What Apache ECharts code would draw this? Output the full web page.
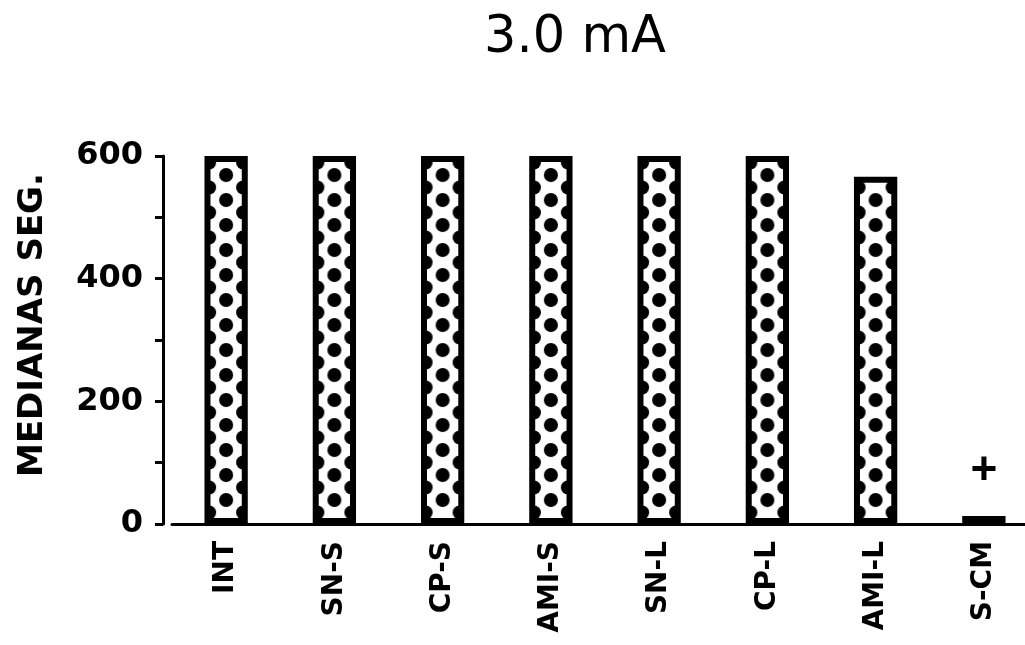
<!DOCTYPE html>
<html><head><meta charset="utf-8">
<script src="https://cdn.jsdelivr.net/npm/echarts@6/dist/echarts.min.js"></script>
<style>html,body{margin:0;padding:0;background:#fff;overflow:hidden}#c{width:1040px;height:645px}</style>
</head><body><div id="c"></div>
<script>
const categories = ['INT','SN-S','CP-S','AMI-S','SN-L','CP-L','AMI-L','S-CM'];
const values = [600, 600, 600, 600, 600, 600, 566, 13];
const marks = ['', '', '', '', '', '', '', '+'];
const yTicks = [0, 200, 400, 600];

const PW = 34, PH = 25;
function dotPattern(){
  const c = document.createElement('canvas');
  c.width = PW; c.height = PH;
  const g = c.getContext('2d');
  g.fillStyle = '#fff'; g.fillRect(0,0,PW,PH);
  g.fillStyle = '#000';
  const pts = [[0,0],[PW,0],[0,PH],[PW,PH],[PW/2,PH/2]];
  pts.forEach(p=>{g.beginPath();g.arc(p[0],p[1],7,0,Math.PI*2);g.fill();});
  return c;
}
const img = dotPattern();
const fontF = 'DejaVu Sans';
const chart = echarts.init(document.getElementById('c'), null, {renderer:'canvas'});
function buildOption(offsets){
  return {
  animation:false,
  backgroundColor:'#fff',
  title:{text:'3.0 mA', left:570, top:8, textAlign:'center',
    textStyle:{fontFamily:fontF, fontSize:51, fontWeight:'normal', color:'#000'}},
  grid:{left:172, right:2, top:156, bottom:121},
  xAxis:{type:'category', data:categories,
    axisLine:{lineStyle:{color:'#000', width:3}},
    axisTick:{show:false},
    axisLabel:{rotate:90, margin:17, fontFamily:fontF, fontWeight:'bold', fontSize:28, color:'#000'}},
  yAxis:{type:'value', min:0, max:600, interval:100, offset:9,
    name:'MEDIANAS SEG.', nameLocation:'middle', nameGap:113, nameRotate:90,
    nameTextStyle:{fontFamily:fontF, fontWeight:'bold', fontSize:34, color:'#000', padding:[0,0,0,30]},
    axisLine:{show:true, onZero:false, lineStyle:{color:'#000', width:3}},
    axisTick:{show:true, length:8, lineStyle:{color:'#000', width:3}},
    splitLine:{show:false},
    axisLabel:{margin:20, fontFamily:fontF, fontWeight:'bold', fontSize:32, color:'#000',
      formatter:v=> yTicks.includes(v) ? String(v) : ''}},
  series:[{type:'bar', barWidth:'40%',
    data: values.map((v,i)=>({value:v, itemStyle:{color:{image:img, repeat:'repeat', x:(offsets?offsets[i]:0), y:0}}})),
    itemStyle:{borderColor:'#000', borderWidth:6},
    label:{show:true, position:'top', distance:22, fontSize:46, fontWeight:'bold', color:'#000',
      fontFamily:'Liberation Sans', formatter:p=>marks[p.dataIndex]}}]
  };
}
chart.setOption(buildOption(null));
const offs = categories.map(c=> chart.convertToPixel({xAxisIndex:0}, c));
chart.setOption(buildOption(offs));
</script></body></html>
